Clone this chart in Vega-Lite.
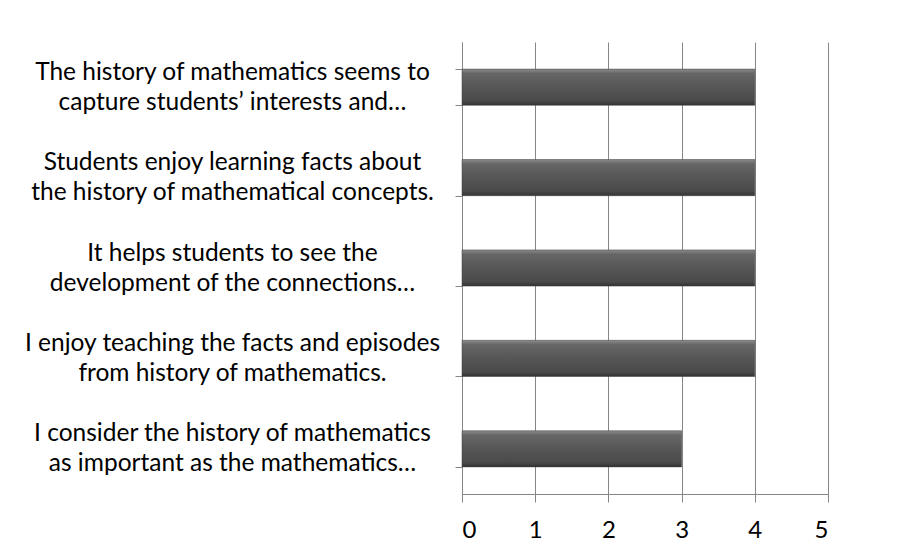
{
  "$schema": "https://vega.github.io/schema/vega-lite/v6.json",
  "width": 366,
  "height": 452,
  "autosize": {"type": "none"},
  "padding": {"left": 462, "top": 42, "right": 83, "bottom": 52},
  "background": "white",
  "config": {"view": {"stroke": null}},
  "data": {
    "values": [
      {"statement": "The history of mathematics seems to\ncapture students’ interests and…", "score": 4},
      {"statement": "Students enjoy learning facts about\nthe history of mathematical concepts.", "score": 4},
      {"statement": "It helps students to see the\ndevelopment of the connections…", "score": 4},
      {"statement": "I enjoy teaching the facts and episodes\nfrom history of mathematics.", "score": 4},
      {"statement": "I consider the history of mathematics\nas important as the mathematics…", "score": 3}
    ]
  },
  "mark": {
    "type": "bar",
    "color": {
      "gradient": "linear", "x1": 0, "y1": 0, "x2": 0, "y2": 1,
      "stops": [
        {"offset": 0, "color": "#8c8c8c"},
        {"offset": 0.12, "color": "#666666"},
        {"offset": 0.5, "color": "#565656"},
        {"offset": 0.88, "color": "#4a4a4a"},
        {"offset": 1, "color": "#333333"}
      ]
    },
    "stroke": "#3c3c3c",
    "strokeWidth": 0.5
  },
  "encoding": {
    "y": {
      "field": "statement",
      "type": "nominal",
      "sort": null,
      "title": null,
      "scale": {"paddingInner": 0.6, "paddingOuter": 0.3},
      "axis": {
        "labelExpr": "split(datum.label, '\\n')",
        "labelColor": "#000000",
        "labelFont": "Lato",
        "labelFontSize": 24.5,
        "labelLineHeight": 30,
        "labelAlign": "center",
        "labelBaseline": "middle",
        "labelPadding": 223,
        "labelOffset": -15,
        "labelLimit": 0,
        "tickBand": "extent",
        "tickSize": 7,
        "tickColor": "#868686",
        "domainColor": "#868686",
        "grid": false
      }
    },
    "x": {
      "field": "score",
      "type": "quantitative",
      "title": null,
      "scale": {"domain": [0, 5], "nice": false},
      "axis": {
        "values": [0, 1, 2, 3, 4, 5],
        "labelFont": "Lato",
        "labelFontSize": 24,
        "labelColor": "#000000",
        "labelPadding": 16,
        "tickSize": 8,
        "tickColor": "#868686",
        "domainColor": "#868686",
        "grid": true,
        "gridColor": "#868686",
        "gridWidth": 1
      }
    }
  }
}
